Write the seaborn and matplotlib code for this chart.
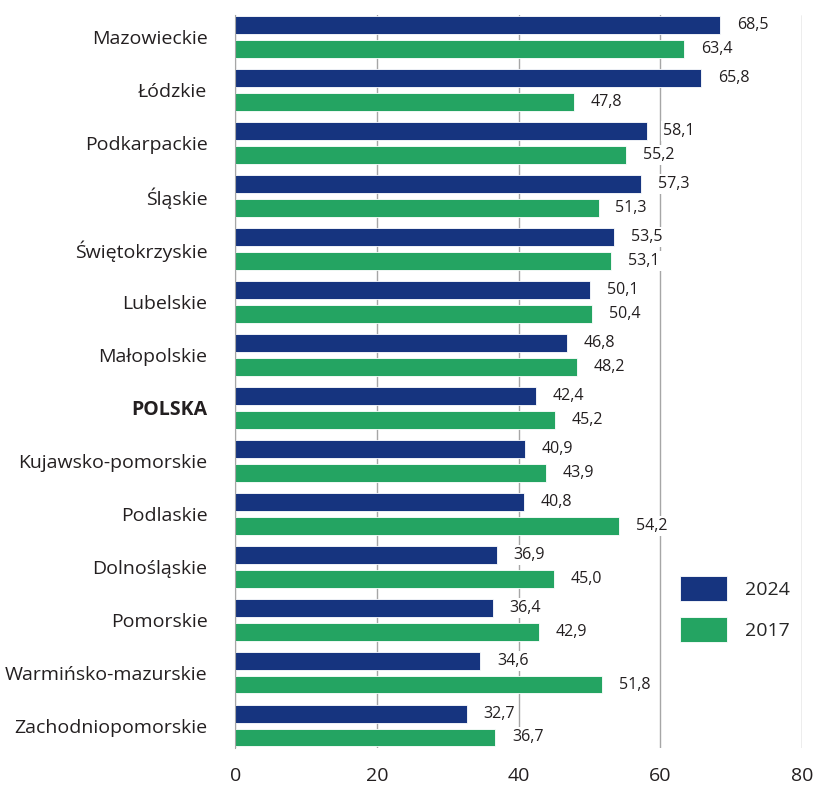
import pandas as pd
import seaborn as sns
import matplotlib.pyplot as plt

# dane
regiony = ['Mazowieckie', 'Łódzkie', 'Podkarpackie', 'Śląskie', 'Świętokrzyskie',
           'Lubelskie', 'Małopolskie', 'POLSKA', 'Kujawsko-pomorskie', 'Podlaskie',
           'Dolnośląskie', 'Pomorskie', 'Warmińsko-mazurskie', 'Zachodniopomorskie']
w2024 = [68.5, 65.8, 58.1, 57.3, 53.5, 50.1, 46.8, 42.4, 40.9, 40.8, 36.9, 36.4, 34.6, 32.7]
w2017 = [63.4, 47.8, 55.2, 51.3, 53.1, 50.4, 48.2, 45.2, 43.9, 54.2, 45.0, 42.9, 51.8, 36.7]
lata = ['2024', '2017']
kolory = ['#16347f', '#24a462']

df = pd.DataFrame({'region': regiony * 2,
                   'wartosc': w2024 + w2017,
                   'rok': [lata[0]] * len(regiony) + [lata[1]] * len(regiony)})

sns.set_style('white')
plt.rcParams['font.family'] = ['Open Sans', 'DejaVu Sans']

fig, ax = plt.subplots(figsize=(8.14, 7.88), dpi=100)
fig.subplots_adjust(left=0.289, right=0.985, top=0.981, bottom=0.051)

sns.barplot(data=df, x='wartosc', y='region', hue='rok', orient='h',
            palette=kolory, saturation=1, width=0.9, gap=0.25,
            edgecolor='white', linewidth=0.6, ax=ax, zorder=2)

# etykiety wartości
for cont in ax.containers:
    labels = [f'{b.get_width():.1f}'.replace('.', ',') for b in cont]
    ax.bar_label(cont, labels=labels, padding=12, fontsize=11.5, color='#231f20',
                 bbox=dict(facecolor='white', edgecolor='none', pad=1.5))

ax.set_xlim(0, 80)
ax.set_xticks([0, 20, 40, 60, 80])
ax.set_ylim(13.42, -0.42)
ax.xaxis.grid(True, color='#a6a6a6', linewidth=1)
ax.set_axisbelow(True)
for s in ['top', 'right', 'bottom']:
    ax.spines[s].set_visible(False)
ax.spines['left'].set_color('#a6a6a6')
ax.tick_params(axis='x', length=0, pad=14, labelsize=14, labelcolor='#231f20')
ax.tick_params(axis='y', length=0, pad=20, labelsize=14, labelcolor='#231f20')
for t in ax.get_yticklabels():
    if t.get_text() == 'POLSKA':
        t.set_fontweight('bold')
ax.set_xlabel('')
ax.set_ylabel('')

ax.legend(loc='upper left', bbox_to_anchor=(0.755, 0.258), frameon=False,
          fontsize=14, handlelength=2.4, handleheight=1.6, labelspacing=0.8,
          handletextpad=0.9)

plt.savefig('out.png', dpi=100)
